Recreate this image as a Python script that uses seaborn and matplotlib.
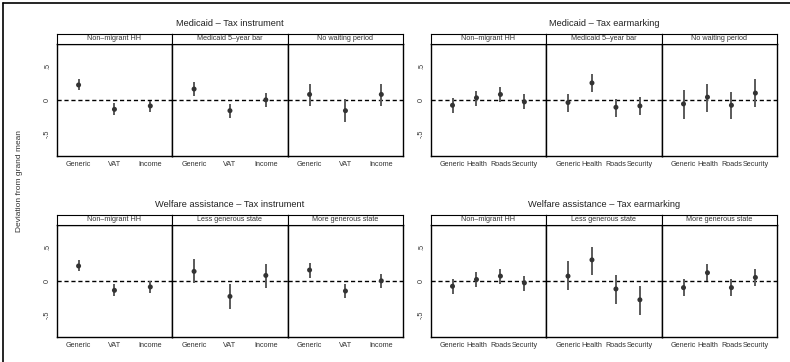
import numpy as np
import pandas as pd
from matplotlib import pyplot as plt
from matplotlib.lines import Line2D
import seaborn as sns

# Categories and facet labels
tax_cats = ["Generic", "VAT", "Income"]
earmark_cats = ["Generic", "Health", "Roads", "Security"]
medicaid_facets = ["Non\u2013migrant HH", "Medicaid 5\u2013year bar", "No waiting period"]
welfare_facets = ["Non\u2013migrant HH", "Less generous state", "More generous state"]

# Medicaid - Tax instrument (estimate, lower, upper per facet)
med_tax_est = [[0.22, -0.14, -0.09], [0.16, -0.16, 0.00], [0.08, -0.16, 0.08]]
med_tax_lo = [[0.14, -0.23, -0.18], [0.05, -0.27, -0.11], [-0.09, -0.33, -0.09]]
med_tax_hi = [[0.31, -0.05, -0.01], [0.27, -0.06, 0.10], [0.24, 0.01, 0.23]]

# Medicaid - Tax earmarking
med_ear_est = [[-0.08, 0.03, 0.08, -0.03], [-0.04, 0.25, -0.11, -0.09], [-0.06, 0.04, -0.08, 0.10]]
med_ear_lo = [[-0.19, -0.09, -0.03, -0.14], [-0.18, 0.11, -0.25, -0.23], [-0.28, -0.18, -0.29, -0.10]]
med_ear_hi = [[0.02, 0.13, 0.19, 0.08], [0.08, 0.38, 0.01, 0.04], [0.15, 0.24, 0.12, 0.31]]

# Welfare assistance - Tax instrument
wel_tax_est = [[0.22, -0.14, -0.09], [0.14, -0.23, 0.08], [0.16, -0.15, 0.00]]
wel_tax_lo = [[0.14, -0.23, -0.18], [-0.03, -0.41, -0.10], [0.04, -0.25, -0.11]]
wel_tax_hi = [[0.31, -0.05, 0.00], [0.32, -0.05, 0.25], [0.26, -0.05, 0.10]]

# Welfare assistance - Tax earmarking
wel_ear_est = [[-0.08, 0.02, 0.07, -0.03], [0.07, 0.31, -0.12, -0.28], [-0.10, 0.12, -0.10, 0.05]]
wel_ear_lo = [[-0.20, -0.09, -0.04, -0.15], [-0.14, 0.09, -0.34, -0.50], [-0.23, 0.00, -0.23, -0.08]]
wel_ear_hi = [[0.02, 0.13, 0.18, 0.07], [0.29, 0.50, 0.09, -0.07], [0.02, 0.25, 0.02, 0.18]]

sns.set_style("white")
plt.rcParams['font.family'] = ['Liberation Sans', 'DejaVu Sans']

W, H = 790, 362
fig = plt.figure(figsize=(W / 100, H / 100), dpi=100)

panels = [
    ("Medicaid \u2013 Tax instrument", tax_cats, medicaid_facets, med_tax_est, med_tax_lo, med_tax_hi, 56.7, 43.7),
    ("Medicaid \u2013 Tax earmarking", earmark_cats, medicaid_facets, med_ear_est, med_ear_lo, med_ear_hi, 430.7, 43.7),
    ("Welfare assistance \u2013 Tax instrument", tax_cats, welfare_facets, wel_tax_est, wel_tax_lo, wel_tax_hi, 56.7, 224.7),
    ("Welfare assistance \u2013 Tax earmarking", earmark_cats, welfare_facets, wel_ear_est, wel_ear_lo, wel_ear_hi, 430.7, 224.7),
]

fw, ph, sh = 115.5, 112.3, 9.7

for title, cats, facets, est, lo, hi, x0, y0 in panels:
    for i, facet in enumerate(facets):
        df = pd.DataFrame({"cat": cats, "est": est[i], "lo": lo[i], "hi": hi[i]})
        df["x"] = np.arange(len(cats))
        left = (x0 + i * fw) / W
        ax = fig.add_axes([left, 1 - (y0 + ph) / H, fw / W, ph / H])
        ax.axhline(0, color="black", lw=1, ls=(0, (3, 2)), zorder=1)
        ax.vlines(df["x"], df["lo"], df["hi"], color="#5a5a5a", lw=1.4, zorder=2)
        sns.scatterplot(data=df, x="x", y="est", ax=ax, color="#333333", s=13,
                        edgecolor="none", zorder=3, legend=False)
        n = len(cats)
        pad = 0.61 if n == 3 else 0.91
        ax.set_xlim(-pad, n - 1 + pad)
        ax.set_ylim(-0.83, 0.83)
        ax.set_xticks(df["x"])
        ax.set_xticklabels(cats, fontsize=5.2, color="#333333")
        ax.set_xlabel("")
        ax.set_ylabel("")
        ax.tick_params(axis="x", length=2, width=0.6, pad=1.5, colors="#333333")
        if i == 0:
            ax.set_yticks([-0.5, 0, 0.5])
            ax.set_yticklabels(["-.5", "0", ".5"], fontsize=5.2, rotation=90, va="center",
                               color="#333333")
            ax.tick_params(axis="y", length=2, width=0.6, pad=2, colors="#333333")
        else:
            ax.set_yticks([])
        for sp in ax.spines.values():
            sp.set_color("black")
            sp.set_linewidth(1)
            sp.set_visible(True)
        # strip
        sax = fig.add_axes([left, 1 - y0 / H, fw / W, sh / H])
        sax.set_xticks([])
        sax.set_yticks([])
        for sp in sax.spines.values():
            sp.set_color("black")
            sp.set_linewidth(0.8)
            sp.set_visible(True)
        sax.text(0.5, 0.5, facet, ha="center", va="center", fontsize=5.2, color="#333333",
                 transform=sax.transAxes)
    fig.text((x0 + 1.5 * fw) / W, 1 - (y0 - 20) / H, title, ha="center", va="center",
             fontsize=6.7, color="#222222")

fig.text(20 / W, 0.5, "Deviation from grand mean", rotation=90, ha="center", va="center",
         fontsize=6, color="#333333")

# outer frame (left and top edges)
fig.add_artist(Line2D([3 / W, 3 / W], [0, 1 - 3 / H], color="black", lw=1.2))
fig.add_artist(Line2D([3 / W, 1], [1 - 3 / H, 1 - 3 / H], color="black", lw=1.2))

fig.savefig("out.png", dpi=100)
